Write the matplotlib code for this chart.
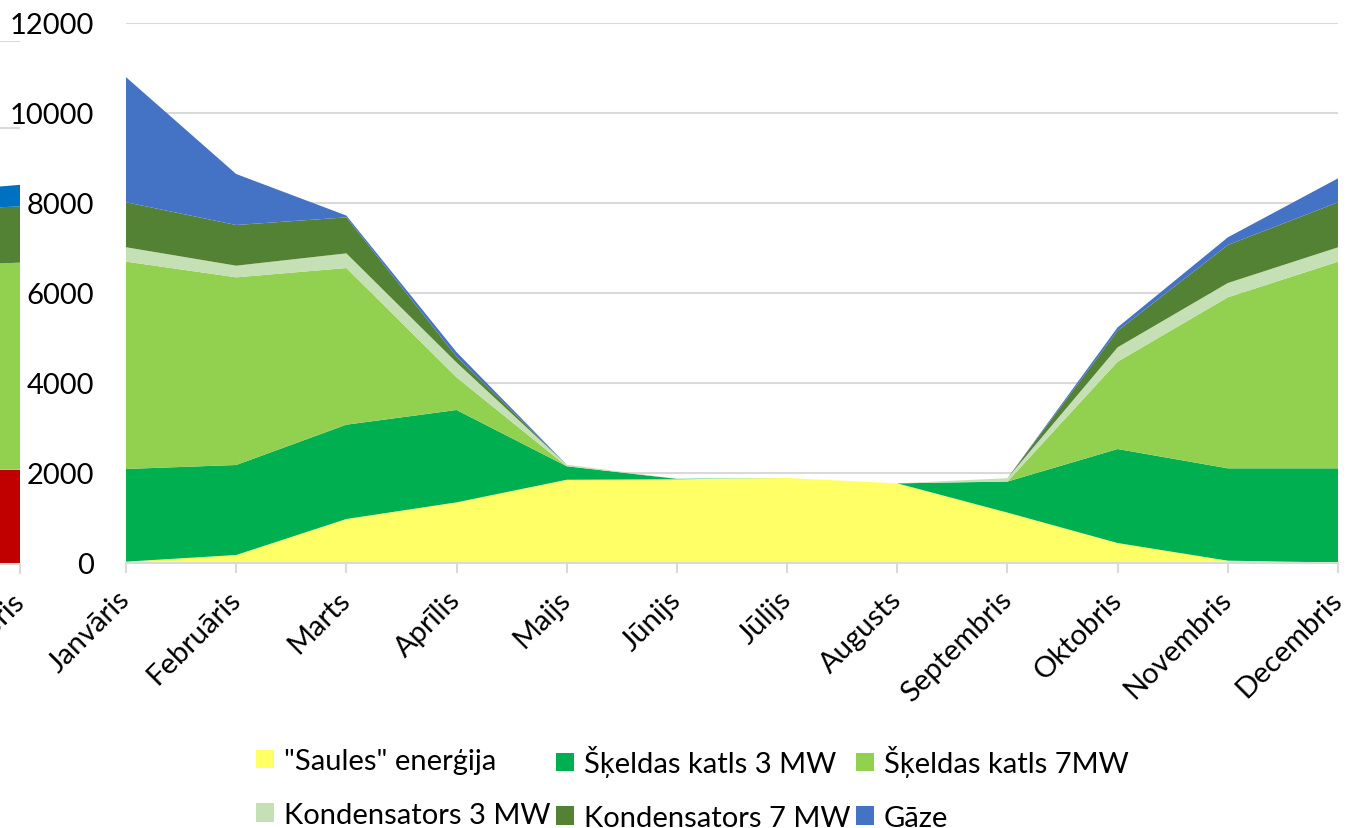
import numpy as np
import matplotlib
matplotlib.use('Agg')
import matplotlib.pyplot as plt
from matplotlib.patches import Patch

# data
months = ['Janvāris', 'Februāris', 'Marts', 'Aprīlis', 'Maijs', 'Jūnijs',
          'Jūlijs', 'Augusts', 'Septembris', 'Oktobris', 'Novembris', 'Decembris']
saule = [30, 178, 978, 1348, 1850, 1860, 1890, 1770, 1120, 444, 52, 10]
skeldas_3 = [2060, 2000, 2096, 2052, 300, 10, 0, 0, 690, 2089, 2052, 2094]
skeldas_7 = [4607, 4170, 3481, 726, 0, 0, 0, 0, 0, 1941, 3800, 4592]
kond_3 = [320, 259, 326, 330, 35, 0, 0, 0, 75, 319, 318, 319]
kond_7 = [1000, 904, 800, 130, 0, 0, 0, 0, 0, 370, 845, 1000]
gaze = [2780, 1133, 40, 100, 0, 0, 0, 0, 0, 74, 170, 533]

series_names = ['"Saules" enerģija', 'Šķeldas katls 3 MW', 'Šķeldas katls 7MW',
                'Kondensators 3 MW', 'Kondensators 7 MW', 'Gāze']
colors = ['#FFFF66', '#00B050', '#92D050', '#C5E0B4', '#548235', '#4472C4']

# cut-off neighbour chart on the left edge (only its last bit is visible)
prev_labels = ['Novembris', 'Decembris']
prev_red = [2160, 2160]
prev_lgreen = [4700, 4750]
prev_dgreen = [1286, 1289]
prev_blue = [434, 496]
prev_colors = ['#C00000', '#92D050', '#548235', '#0070C0']

W, H = 1350, 829
plt.rcParams['font.family'] = ['Lato', 'DejaVu Sans']
fig = plt.figure(figsize=(W / 100, H / 100), dpi=100)

grid_c = '#D9D9D9'
fs = 21


def style_axis(a):
    a.set_ylim(0, 12000)
    a.set_yticks(np.arange(0, 12001, 2000))
    a.yaxis.grid(True, color=grid_c, lw=1.5, zorder=0)
    a.set_axisbelow(True)
    for s in ['top', 'right', 'left']:
        a.spines[s].set_visible(False)
    a.spines['bottom'].set_color(grid_c)
    a.spines['bottom'].set_linewidth(1.5)
    a.tick_params(axis='x', length=7, width=1.5, color=grid_c, pad=16, labelsize=fs)


# left fragment (drawn first, sits behind)
ax0 = fig.add_axes([-40 / W, (H - 565) / H, 60 / W, (565 - 41.7) / H])
ax0.stackplot([0, 1], prev_red, prev_lgreen, prev_dgreen, prev_blue,
              colors=prev_colors, lw=0, zorder=2)
ax0.set_xlim(0, 1)
style_axis(ax0)
ax0.set_yticklabels([])
ax0.tick_params(axis='y', length=0)
ax0.set_xticks([1])
ax0.set_xticklabels(prev_labels[1:], rotation=45, ha='right', va='center',
                    rotation_mode='anchor')

# main chart
ax = fig.add_axes([126 / W, (H - 564) / H, (1338 - 126) / W, (564 - 24) / H])
x = np.arange(len(months))
ax.stackplot(x, saule, skeldas_3, skeldas_7, kond_3, kond_7, gaze,
             colors=colors, labels=series_names, lw=0, zorder=2)
ax.set_xlim(0, len(months) - 1)
style_axis(ax)
ax.tick_params(axis='y', length=0, pad=23, labelsize=fs)
ax.set_xticks(x)
ax.set_xticklabels(months, rotation=45, ha='right', va='center',
                   rotation_mode='anchor')
ax.set_zorder(3)

# legend: three columns, filled row by row
handles = [Patch(facecolor=c, edgecolor='none') for c in colors]
col_x = [256, 556, 856]
for i, cx in enumerate(col_x):
    leg = fig.legend([handles[i], handles[i + 3]],
                     [series_names[i], series_names[i + 3]],
                     loc='center left', bbox_to_anchor=(cx / W, (H - 789) / H),
                     frameon=False, fontsize=fs, handlelength=0.6,
                     handleheight=0.6, handletextpad=0.35, labelspacing=0.95,
                     borderpad=0, borderaxespad=0)

fig.savefig('out.png', dpi=100)
